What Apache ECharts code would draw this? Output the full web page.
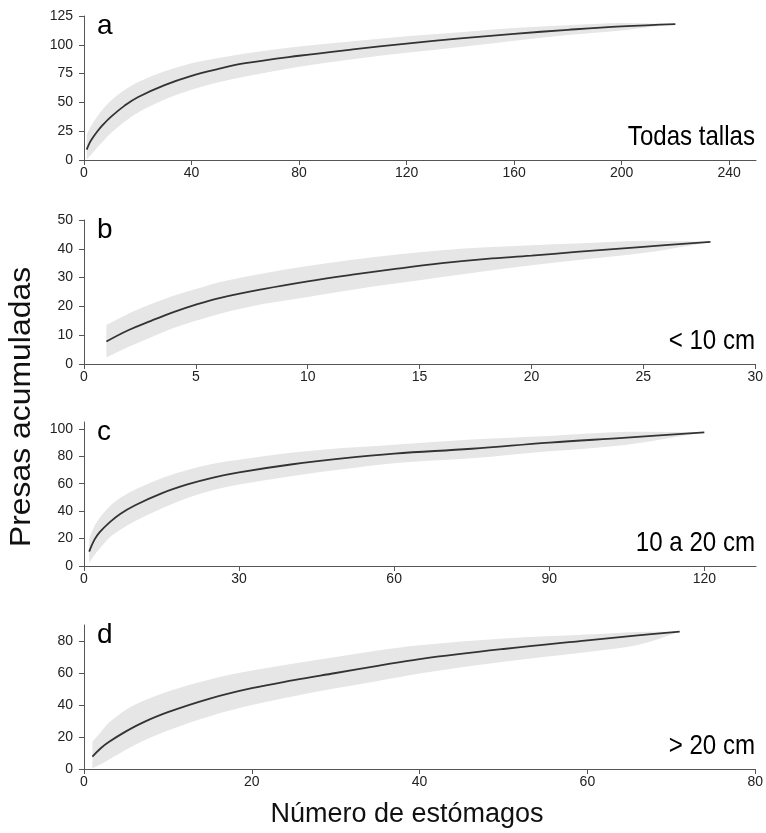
<!DOCTYPE html>
<html>
<head>
<meta charset="utf-8">
<script src="https://cdn.jsdelivr.net/npm/echarts@6/dist/echarts.min.js"></script>
<style>
  html, body { margin: 0; padding: 0; background: #fff; }
  #chart { width: 766px; height: 833px; }
</style>
</head>
<body>
<div id="chart"></div>
<script>
// Curvas de acumulación de presas por número de estómagos (media e IC)

// a: todas las tallas
const xA   = [1, 2, 3, 5, 7, 10, 15, 20, 30, 40, 50, 60, 80, 100, 120, 140, 160, 180, 200, 220];
const midA = [9, 14.5, 18.5, 25, 30.5, 37.5, 47, 54.5, 65, 73, 79, 84, 90.5, 96, 101, 105.5, 109.5, 113, 116, 118];
const loA  = [0.5, 3, 5.5, 11, 16, 23.5, 33, 41, 52.5, 61, 67.5, 72.5, 81, 87.5, 93, 98, 103.5, 108.5, 112.5, 118];
const hiA  = [22, 27, 31, 38, 44, 51.5, 60.5, 67.5, 77, 84, 88.5, 92.5, 98.5, 103, 107.5, 111, 114.5, 117, 119, 118];

// b: < 10 cm
const xB   = [1, 2, 3, 4, 5, 6, 8, 10, 12, 14, 16, 18, 20, 22, 25, 28];
const midB = [7.8, 11.8, 15, 18, 20.6, 22.8, 26, 28.7, 31, 33.1, 35, 36.5, 37.6, 38.9, 40.7, 42.4];
const loB  = [2.3, 6, 9.3, 12.5, 15, 17.3, 20.8, 23.3, 25.8, 28, 30.2, 32.3, 34.3, 36, 38.5, 42.4];
const hiB  = [13.5, 17.5, 20.8, 23.7, 26, 28.3, 31.4, 34, 36.2, 38, 39.5, 40.5, 41.2, 41.8, 42.8, 42.4];

// c: 10 a 20 cm
const xC   = [1, 2, 3, 5, 7, 10, 15, 20, 25, 30, 40, 50, 60, 75, 90, 105, 120];
const midC = [10.5, 19, 24.5, 32, 38, 44.5, 53, 59.5, 64.5, 68.3, 74, 78.5, 82, 85.5, 90, 93.6, 97.5];
const loC  = [2, 8, 12.5, 21, 26.5, 33, 42, 49.5, 55.5, 59.5, 65.5, 70.5, 75, 78.5, 83.6, 88.5, 97.5];
const hiC  = [20, 29, 35, 43.5, 49.5, 56, 64, 70, 74.5, 77.5, 82.5, 86, 88.5, 92.3, 94.8, 97.8, 97.5];

// d: > 20 cm
const xD   = [1, 2, 3, 5, 7, 10, 15, 20, 25, 30, 35, 40, 50, 60, 66, 71];
const midD = [7.8, 13, 17, 23.5, 29, 35.5, 44, 50.5, 55.5, 60, 64.5, 68.7, 75, 80.4, 83.5, 85.8];
const loD  = [0.5, 3, 6, 12, 17.5, 24, 33, 40, 45.5, 50.4, 55, 59.7, 67, 73.1, 77.5, 85.8];
const hiD  = [17, 23, 29, 37, 42.5, 48.5, 56, 61.5, 66, 70, 74, 77.3, 81.5, 84, 85.6, 85.8];

// Etiquetas de los ejes
const xTicksA = [0, 40, 80, 120, 160, 200, 240];
const yTicksA = [0, 25, 50, 75, 100, 125];
const xTicksB = [0, 5, 10, 15, 20, 25, 30];
const yTicksB = [0, 10, 20, 30, 40, 50];
const xTicksC = [0, 30, 60, 90, 120];
const yTicksC = [0, 20, 40, 60, 80, 100];
const xTicksD = [0, 20, 40, 60, 80];
const yTicksD = [0, 20, 40, 60, 80];

const panelLetters = ['a', 'b', 'c', 'd'];
const panelNames = ['Todas tallas', '< 10 cm', '10 a 20 cm', '> 20 cm'];
const xTitle = 'Número de estómagos';
const yTitle = 'Presas acumuladas';

const panels = [
  { x: xA, mid: midA, lo: loA, hi: hiA, xt: xTicksA, yt: yTicksA, xMax: 250, yMax: 125, top: 16 },
  { x: xB, mid: midB, lo: loB, hi: hiB, xt: xTicksB, yt: yTicksB, xMax: 30,  yMax: 50,  top: 220 },
  { x: xC, mid: midC, lo: loC, hi: hiC, xt: xTicksC, yt: yTicksC, xMax: 130, yMax: 105, top: 422 },
  { x: xD, mid: midD, lo: loD, hi: hiD, xt: xTicksD, yt: yTicksD, xMax: 80,  yMax: 90,  top: 625 }
];

const PLOT_H = 144;
const LEFT = 84;
const RIGHT = 10;
const FONT = '"Liberation Sans", Arial, sans-serif';
const AXIS_COLOR = '#555';
const LABEL_COLOR = '#222';
const BAND_COLOR = '#e6e6e6';
const LINE_COLOR = '#333';

// Tramos cúbicos de Hermite (parametrizados en x) entre puntos ya proyectados
function hermiteSegments(pts) {
  const n = pts.length;
  const slope = (i) => {
    const a = pts[Math.max(0, i - 1)], b = pts[Math.min(n - 1, i + 1)];
    return (b[1] - a[1]) / (b[0] - a[0]);
  };
  let d = '';
  for (let i = 0; i < n - 1; i++) {
    const p = pts[i], q = pts[i + 1];
    const h = (q[0] - p[0]) / 3;
    const m0 = slope(i), m1 = slope(i + 1);
    d += ' C' + (p[0] + h) + ',' + (p[1] + m0 * h) + ' ' +
         (q[0] - h) + ',' + (q[1] - m1 * h) + ' ' + q[0] + ',' + q[1];
  }
  return d;
}

const grid = [], xAxis = [], yAxis = [], series = [], graphic = [];

panels.forEach((p, i) => {
  grid.push({ left: LEFT, right: RIGHT, top: p.top, height: PLOT_H });

  const axisCommon = {
    type: 'value',
    gridIndex: i,
    min: 0,
    splitLine: { show: false },
    axisLine: { show: true, onZero: false, lineStyle: { color: AXIS_COLOR, width: 1 } },
    axisTick: { show: true, length: 5, lineStyle: { color: AXIS_COLOR, width: 1 } },
    axisLabel: { color: LABEL_COLOR, fontSize: 14, fontFamily: FONT }
  };

  xAxis.push(Object.assign({}, axisCommon, {
    max: p.xMax,
    axisTick: Object.assign({}, axisCommon.axisTick, { customValues: p.xt }),
    axisLabel: Object.assign({}, axisCommon.axisLabel, { customValues: p.xt, margin: 6 })
  }));
  yAxis.push(Object.assign({}, axisCommon, {
    max: p.yMax,
    axisTick: Object.assign({}, axisCommon.axisTick, { customValues: p.yt }),
    axisLabel: Object.assign({}, axisCommon.axisLabel, { customValues: p.yt, margin: 11 })
  }));

  // banda del intervalo: límite superior hacia delante, inferior de vuelta
  series.push({
    type: 'custom', coordinateSystem: 'cartesian2d', xAxisIndex: i, yAxisIndex: i,
    data: [[p.x[0], p.lo[0]]],
    encode: { x: 0, y: 1 },
    silent: true, z: 1,
    renderItem: (params, api) => {
      const up = p.x.map((v, k) => api.coord([v, p.hi[k]]));
      const dn = p.x.map((v, k) => api.coord([v, p.lo[k]])).reverse();
      const path = 'M' + up[0][0] + ',' + up[0][1] + hermiteSegments(up) +
        ' L' + dn[0][0] + ',' + dn[0][1] + hermiteSegments(dn) + ' Z';
      return {
        type: 'path',
        shape: { pathData: path },
        style: { fill: BAND_COLOR, stroke: null }
      };
    }
  });
  // curva media
  series.push({
    type: 'line', xAxisIndex: i, yAxisIndex: i,
    data: p.x.map((v, k) => [v, p.mid[k]]),
    smooth: 0.4,
    showSymbol: false, symbol: 'none',
    lineStyle: { color: LINE_COLOR, width: 1.8 },
    silent: true, z: 3
  });

  const bottom = p.top + PLOT_H;
  graphic.push({
    type: 'text', x: 97, y: p.top + 10, silent: true, z: 100,
    style: { text: panelLetters[i], font: '28px ' + FONT, fill: '#000', align: 'left', verticalAlign: 'middle' }
  });
  graphic.push({
    type: 'text', x: 755, y: bottom - 23, scaleX: 0.86, silent: true, z: 100,
    style: { text: panelNames[i], font: '28px ' + FONT, fill: '#000', align: 'right', verticalAlign: 'middle' }
  });
});

graphic.push({
  type: 'text', x: 22, y: 407, rotation: Math.PI / 2, scaleX: 1.1, silent: true, z: 100,
  style: { text: yTitle, font: '29px ' + FONT, fill: '#111', align: 'center', verticalAlign: 'middle' }
});
graphic.push({
  type: 'text', x: 407, y: 815, silent: true, z: 100,
  style: { text: xTitle, font: '27px ' + FONT, fill: '#111', align: 'center', verticalAlign: 'middle' }
});

const chart = echarts.init(document.getElementById('chart'), null, { renderer: 'canvas' });
chart.setOption({
  animation: false,
  backgroundColor: '#fff',
  grid, xAxis, yAxis, series, graphic
});
</script>
</body>
</html>
